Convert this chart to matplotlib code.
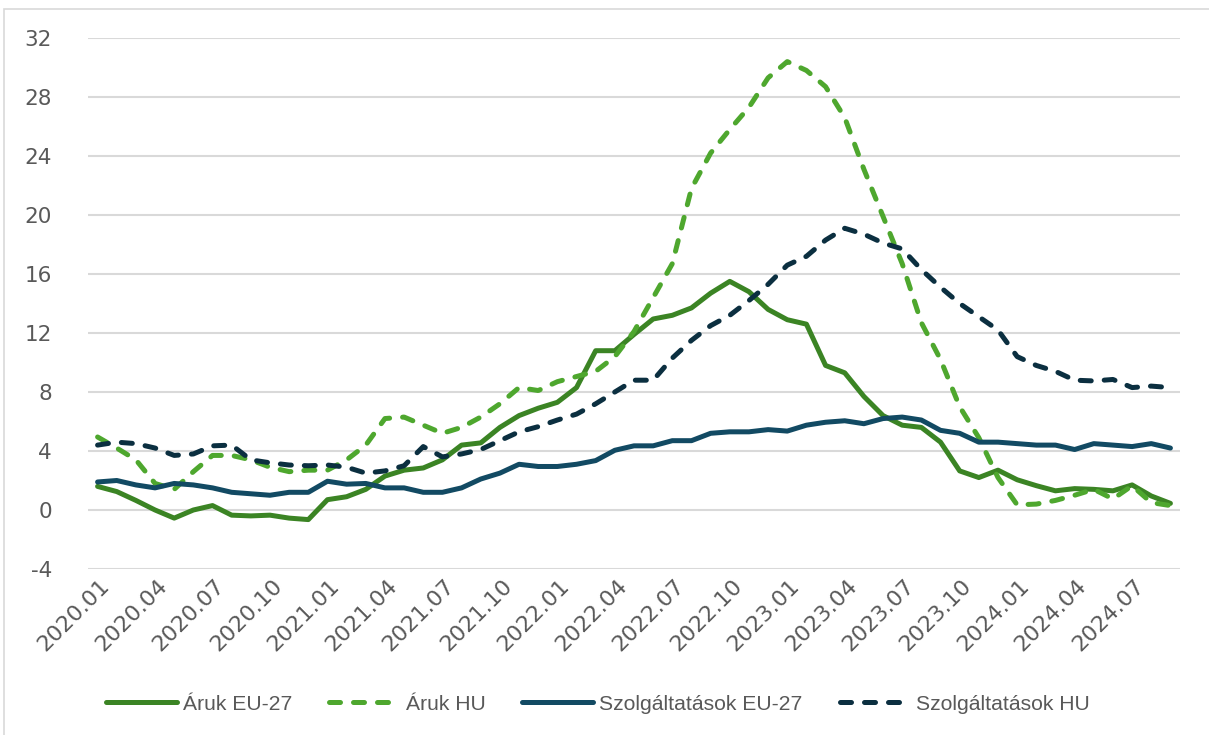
import matplotlib
matplotlib.use("Agg")
import matplotlib.pyplot as plt
from matplotlib.patches import Rectangle
from matplotlib.transforms import ScaledTranslation
import numpy as np

months = [f"{y}.{m:02d}" for y in range(2020, 2025) for m in range(1, 13)][:57]

aruk_eu = [1.6, 1.25, 0.65, 0.0, -0.55, 0.0, 0.3, -0.35, -0.4, -0.35, -0.55, -0.65,
           0.7, 0.9, 1.4, 2.3, 2.7, 2.85, 3.4, 4.4, 4.55, 5.6, 6.4, 6.9,
           7.3, 8.3, 10.8, 10.8, 11.9, 12.95, 13.2, 13.7, 14.7, 15.5, 14.8, 13.6,
           12.9, 12.6, 9.8, 9.3, 7.7, 6.4, 5.75, 5.6, 4.6, 2.65, 2.2, 2.7,
           2.05, 1.65, 1.3, 1.45, 1.4, 1.3, 1.7, 0.95, 0.45]
aruk_hu = [4.95, 4.2, 3.4, 1.8, 1.4, 2.6, 3.7, 3.7, 3.4, 2.9, 2.6, 2.7,
           2.7, 3.4, 4.4, 6.2, 6.3, 5.75, 5.2, 5.6, 6.3, 7.2, 8.3, 8.1,
           8.7, 9.05, 9.4, 10.4, 12.1, 14.4, 16.7, 21.8, 24.2, 25.8, 27.3, 29.3,
           30.4, 29.8, 28.7, 26.6, 23.1, 19.9, 16.7, 12.7, 10.2, 7.0, 4.9, 2.2,
           0.35, 0.4, 0.65, 1.0, 1.4, 0.75, 1.65, 0.5, 0.3]
szolg_eu = [1.9, 2.0, 1.7, 1.5, 1.8, 1.7, 1.5, 1.2, 1.1, 1.0, 1.2, 1.2,
            1.95, 1.75, 1.8, 1.5, 1.5, 1.2, 1.2, 1.5, 2.1, 2.5, 3.1, 2.95,
            2.95, 3.1, 3.35, 4.05, 4.35, 4.35, 4.7, 4.7, 5.2, 5.3, 5.3, 5.45,
            5.35, 5.75, 5.95, 6.05, 5.85, 6.2, 6.3, 6.1, 5.4, 5.2, 4.6, 4.6,
            4.5, 4.4, 4.4, 4.1, 4.5, 4.4, 4.3, 4.5, 4.2]
szolg_hu = [4.4, 4.6, 4.5, 4.2, 3.7, 3.8, 4.35, 4.4, 3.4, 3.2, 3.05, 3.0,
            3.05, 2.9, 2.5, 2.65, 3.0, 4.3, 3.6, 3.8, 4.1, 4.7, 5.3, 5.65,
            6.1, 6.5, 7.2, 8.0, 8.8, 8.8, 10.3, 11.5, 12.5, 13.2, 14.2, 15.3,
            16.6, 17.2, 18.3, 19.1, 18.7, 18.1, 17.7, 16.3, 15.1, 14.0, 13.1, 12.2,
            10.4, 9.8, 9.4, 8.8, 8.75, 8.85, 8.3, 8.4, 8.3]

series_labels = ["Áruk EU-27", "Áruk HU", "Szolgáltatások EU-27", "Szolgáltatások HU"]
colors = ["#3B8424", "#4EA72E", "#124A63", "#0B2F40"]
yticks = list(range(-4, 33, 4))

W, H = 1209, 735
fig = plt.figure(figsize=(W / 100, H / 100), dpi=100)
fig.patch.set_facecolor("white")

# outer chart border (partially cropped)
fig.patches.append(Rectangle((4 / W, -0.05), 1.1, (H - 9) / H + 0.05, transform=fig.transFigure,
                             fill=False, edgecolor="#d9d9d9", linewidth=1.2, clip_on=False))

left, right = 88 / W, 1180 / W
bottom, top = (H - 569) / H, (H - 38) / H
ax = fig.add_axes([left, bottom, right - left, top - bottom])

x = np.arange(len(months))
lw = 3.6
dash = (2.2, 2.6)
data = [aruk_eu, aruk_hu, szolg_eu, szolg_hu]
styles = ["solid", "dash", "solid", "dash"]
for vals, lab, col, st in zip(data, series_labels, colors, styles):
    if st == "solid":
        ax.plot(x, vals, color=col, lw=lw, label=lab, solid_capstyle="round", solid_joinstyle="round", zorder=3)
    else:
        ln, = ax.plot(x, vals, color=col, lw=lw, label=lab, dash_capstyle="round", dash_joinstyle="round", zorder=3)
        ln.set_dashes(dash)

ax.set_xlim(-0.5, len(months) - 0.5)
ax.set_ylim(-4, 32)
ax.set_yticks(yticks)
ax.set_yticklabels([str(v) for v in yticks])
ax.grid(axis="y", color="#d9d9d9", linewidth=1.5, zorder=0)
ax.set_axisbelow(True)
for s in ax.spines.values():
    s.set_visible(False)

tick_idx = list(range(0, len(months), 3))
ax.set_xticks(tick_idx)
ax.set_xticklabels([months[i] for i in tick_idx], rotation=45, ha="right", va="center",
                   rotation_mode="anchor")
ax.tick_params(axis="x", length=0, colors="#595959", labelsize=16)
ax.tick_params(axis="y", length=0, colors="#595959", labelsize=15.5, pad=26)
ax.tick_params(axis="x", pad=10)
offset = ScaledTranslation(9 / 100, 0, fig.dpi_scale_trans)
for t in ax.get_xticklabels():
    t.set_family(["Liberation Sans Narrow", "DejaVu Sans"])
    t.set_transform(t.get_transform() + offset)
for t in ax.get_yticklabels():
    t.set_family(["Liberation Sans Narrow", "DejaVu Sans"])

leg = fig.legend(loc="center", bbox_to_anchor=(598 / W, 1 - 704 / H), ncol=4, frameon=False,
                 handlelength=3.36, handletextpad=0.28, columnspacing=1.75,
                 prop={"family": ["Liberation Sans", "DejaVu Sans"], "size": 15.2})
for t in leg.get_texts():
    t.set_color("#595959")

fig.savefig("out.png", dpi=100, facecolor="white")
